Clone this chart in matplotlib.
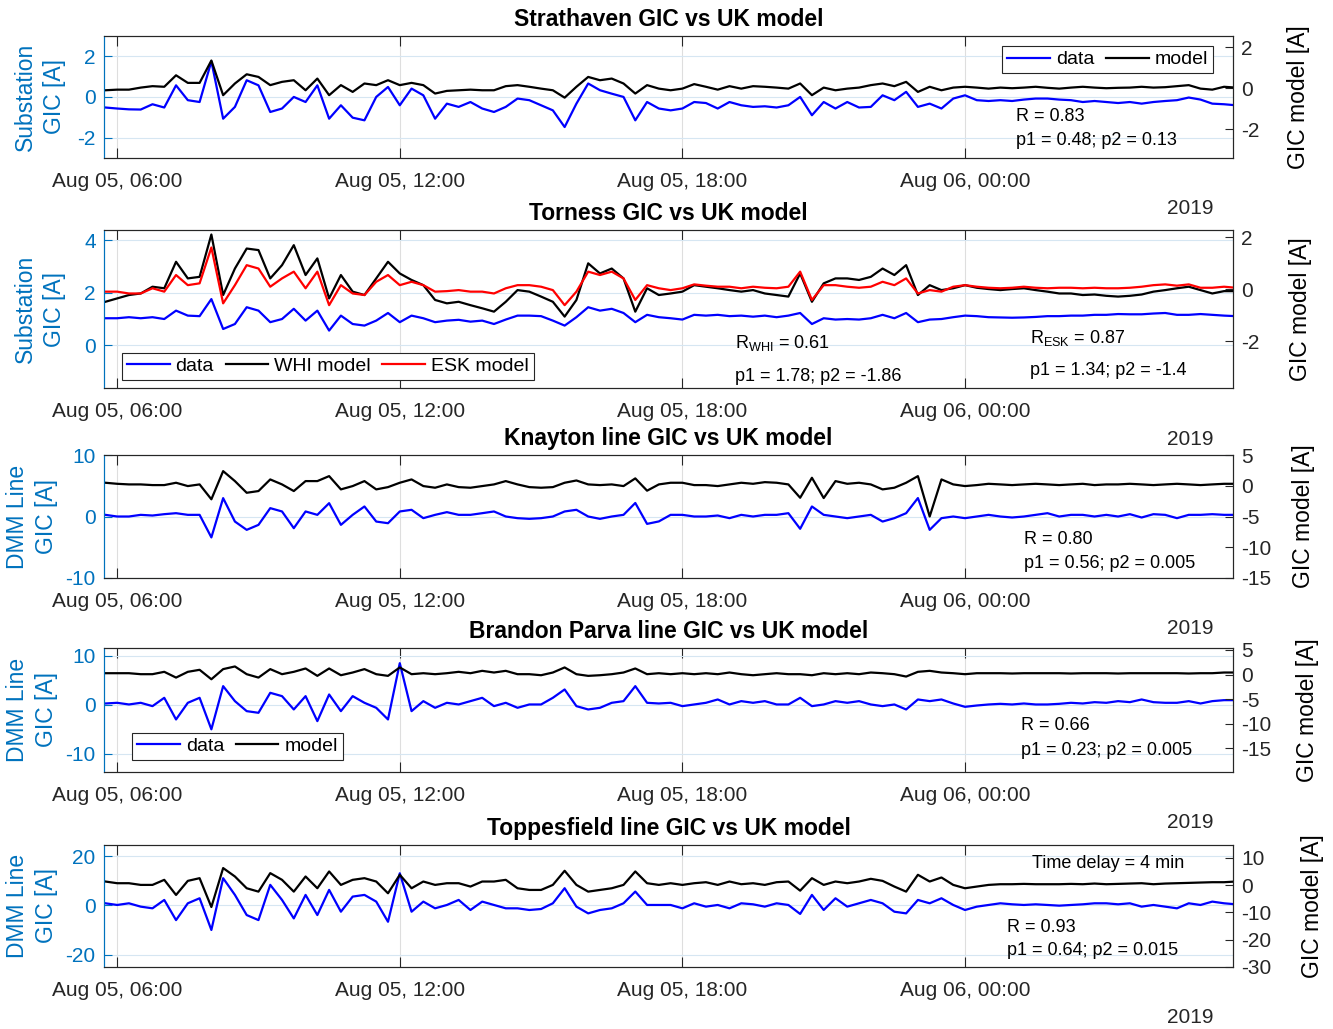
import datetime as dt
import numpy as np
import matplotlib
matplotlib.use('Agg')
import matplotlib.pyplot as plt
import matplotlib.dates as mdates

plt.rcParams['font.family'] = 'Liberation Sans'
plt.rcParams['mathtext.fontset'] = 'custom'
plt.rcParams['mathtext.rm'] = 'Liberation Sans'
plt.rcParams['mathtext.it'] = 'Liberation Sans:italic'
plt.rcParams['axes.unicode_minus'] = False

# sample times: every 15 min from 05:45 on Aug 05 to 05:45 on Aug 06
t0 = dt.datetime(2019, 8, 5)
hours = np.arange(5.75, 29.76, 0.25)
t = [t0 + dt.timedelta(hours=float(h)) for h in hours]

# Strathaven (data on left axis, model on right axis)
strath_data = [
    -0.52, -0.57, -0.61, -0.62, -0.36, -0.52, 0.57, -0.16, -0.25, 1.75, -1.07, -0.49,
    0.82, 0.57, -0.74, -0.57, 0.00, -0.25, 0.57, -1.07, -0.41, -1.02, -1.15, 0.00,
    0.49, -0.41, 0.41, 0.08, -1.07, -0.33, -0.49, -0.25, -0.57, -0.74, -0.49, -0.08,
    -0.16, -0.41, -0.66, -1.48, -0.33, 0.66, 0.33, 0.16, 0.00, -1.15, -0.25, -0.57,
    -0.66, -0.57, -0.25, -0.30, -0.57, -0.25, -0.41, -0.49, -0.46, -0.52, -0.41, 0.00,
    -0.90, -0.25, -0.57, -0.25, -0.52, -0.49, 0.08, -0.16, 0.25, -0.49, -0.33, -0.57,
    -0.08, 0.08, -0.16, -0.20, -0.16, -0.20, -0.13, -0.08, -0.08, -0.13, -0.16, -0.25,
    -0.20, -0.25, -0.30, -0.25, -0.33, -0.25, -0.20, -0.16, -0.03, -0.13, -0.33, -0.36,
    -0.41]
strath_model = [
    -0.10, -0.07, -0.07, 0.03, 0.10, 0.07, 0.63, 0.26, 0.26, 1.35, -0.34, 0.23,
    0.68, 0.55, 0.15, 0.31, 0.39, -0.10, 0.47, -0.34, 0.15, -0.18, 0.23, 0.15,
    0.39, 0.15, 0.26, 0.15, -0.26, -0.13, -0.10, -0.07, -0.10, -0.10, 0.10, 0.15,
    0.07, -0.02, -0.10, -0.46, 0.07, 0.55, 0.39, 0.47, 0.23, -0.26, 0.15, -0.02,
    -0.10, -0.02, 0.20, 0.07, -0.07, 0.10, -0.02, 0.10, 0.07, 0.03, -0.02, 0.23,
    -0.34, 0.03, -0.10, -0.02, 0.03, 0.15, 0.23, 0.10, 0.31, -0.18, 0.07, -0.10,
    0.03, 0.07, 0.03, -0.02, 0.03, 0.00, 0.03, 0.07, 0.02, -0.02, 0.03, 0.07,
    0.03, 0.00, 0.02, 0.03, 0.07, 0.03, 0.05, 0.10, 0.15, -0.02, -0.07, 0.07,
    0.03]

# Torness
torness_data = [
    1.02, 1.02, 1.06, 1.02, 1.06, 0.99, 1.31, 1.12, 1.10, 1.75, 0.61, 0.80,
    1.44, 1.31, 0.87, 0.99, 1.38, 0.93, 1.31, 0.55, 1.12, 0.80, 0.74, 0.93,
    1.22, 0.87, 1.12, 1.02, 0.87, 0.93, 0.96, 0.89, 0.93, 0.80, 0.97, 1.12,
    1.12, 1.10, 0.93, 0.74, 1.06, 1.44, 1.31, 1.38, 1.22, 0.87, 1.15, 1.06,
    1.02, 0.97, 1.15, 1.12, 1.15, 1.10, 1.12, 1.08, 1.12, 1.06, 1.12, 1.22,
    0.80, 1.02, 0.97, 0.99, 0.97, 1.02, 1.15, 1.02, 1.22, 0.87, 0.97, 0.99,
    1.06, 1.12, 1.10, 1.06, 1.05, 1.04, 1.05, 1.07, 1.10, 1.10, 1.12, 1.12,
    1.15, 1.15, 1.18, 1.17, 1.17, 1.20, 1.22, 1.15, 1.15, 1.18, 1.15, 1.12,
    1.10]
torness_whi = [
    -0.49, -0.36, -0.23, -0.17, 0.09, 0.03, 1.05, 0.41, 0.47, 2.10, -0.23, 0.79,
    1.56, 1.50, 0.41, 0.92, 1.69, 0.54, 1.18, -0.36, 0.54, -0.10, -0.23, 0.41,
    1.05, 0.60, 0.35, 0.15, -0.42, -0.55, -0.49, -0.62, -0.74, -0.87, -0.49, -0.04,
    -0.10, -0.29, -0.49, -1.06, -0.42, 0.99, 0.60, 0.79, 0.41, -0.87, 0.03, -0.23,
    -0.17, -0.10, 0.15, 0.09, 0.03, -0.04, -0.10, -0.04, -0.17, -0.23, -0.29, 0.60,
    -0.49, 0.22, 0.41, 0.41, 0.35, 0.47, 0.79, 0.54, 0.92, -0.23, 0.15, -0.04,
    0.03, 0.15, 0.05, 0.00, -0.04, 0.00, 0.03, -0.04, -0.10, -0.17, -0.17, -0.23,
    -0.21, -0.26, -0.29, -0.26, -0.21, -0.10, -0.04, 0.03, 0.09, -0.04, -0.17, -0.08,
    -0.08]
torness_esk = [
    -0.10, -0.10, -0.17, -0.17, 0.03, -0.10, 0.54, 0.15, 0.22, 1.60, -0.55, 0.15,
    0.92, 0.79, 0.09, 0.41, 0.67, 0.03, 0.67, -0.62, 0.15, -0.17, -0.23, 0.28,
    0.54, 0.15, 0.28, 0.15, -0.10, -0.08, -0.04, -0.10, -0.10, -0.17, 0.03, 0.15,
    0.15, 0.09, -0.04, -0.62, -0.10, 0.67, 0.54, 0.67, 0.41, -0.42, 0.15, 0.03,
    -0.04, 0.03, 0.18, 0.13, 0.09, 0.09, 0.03, 0.09, 0.05, 0.03, 0.09, 0.67,
    -0.42, 0.15, 0.15, 0.09, 0.05, 0.09, 0.28, 0.15, 0.41, -0.17, -0.04, -0.10,
    0.09, 0.15, 0.09, 0.05, 0.03, 0.05, 0.09, 0.05, 0.03, 0.05, 0.05, 0.03,
    0.05, 0.03, 0.03, 0.05, 0.09, 0.15, 0.18, 0.13, 0.18, 0.05, 0.05, 0.09,
    0.05]

# Knayton
knay_data = [
    0.27, 0.00, 0.00, 0.27, 0.16, 0.38, 0.54, 0.27, 0.27, -3.40, 2.99, -0.82,
    -2.17, -1.36, 1.36, 0.82, -1.90, 0.82, 0.27, 2.17, -1.36, 0.27, 1.63, -0.82,
    -1.09, 0.82, 1.09, -0.27, 0.27, 0.71, 0.27, 0.27, 0.54, 0.82, 0.00, -0.27,
    -0.38, -0.27, 0.00, 0.82, 1.09, 0.00, -0.38, 0.00, 0.27, 2.20, -1.20, -0.80,
    0.27, 0.27, 0.00, 0.00, 0.16, -0.27, 0.27, 0.00, 0.27, 0.27, 0.54, -2.00,
    1.63, 0.27, 0.00, -0.27, 0.00, 0.27, -0.82, -0.27, 0.54, 3.00, -2.17, -0.27,
    0.00, -0.27, 0.00, 0.27, 0.00, -0.16, 0.00, 0.27, 0.54, 0.00, 0.27, 0.27,
    0.00, 0.27, 0.00, 0.38, -0.16, 0.38, 0.27, -0.27, 0.27, 0.27, 0.38, 0.27,
    0.27]
knay_model = [
    0.49, 0.32, 0.22, 0.22, 0.11, 0.11, 0.49, -0.05, 0.22, -2.20, 2.38, 0.76,
    -1.14, -0.86, 1.03, 0.22, -0.86, 0.76, 0.76, 1.57, -0.59, -0.05, 0.76, -0.59,
    -0.22, 0.49, 1.03, -0.05, -0.32, 0.22, -0.22, -0.32, -0.05, 0.22, 0.76, 0.22,
    -0.22, -0.32, -0.22, 0.49, 0.86, 0.22, 0.11, 0.22, -0.05, 1.20, -0.80, 0.22,
    0.49, 0.49, 0.11, 0.11, -0.05, 0.22, 0.49, 0.32, 0.59, 0.49, 0.22, -1.95,
    1.30, -2.00, 0.76, 0.32, 0.49, 0.22, -0.59, -0.32, 0.49, 1.57, -5.00, 1.03,
    0.22, -0.05, 0.11, 0.32, 0.22, 0.11, 0.22, 0.32, 0.22, 0.11, 0.22, 0.32,
    0.11, 0.22, 0.22, 0.32, 0.22, 0.11, 0.22, 0.32, 0.22, 0.11, 0.22, 0.32,
    0.32]

# Brandon Parva
brandon_data = [
    0.27, 0.41, 0.07, 0.41, -0.27, 1.43, -2.99, 0.41, 1.43, -5.00, 3.81, 0.75,
    -1.29, -1.63, 2.45, 1.77, -0.95, 1.77, -3.33, 2.11, -1.29, 1.77, 0.41, -0.61,
    -2.99, 8.50, -1.29, 0.75, -0.61, 0.41, 0.07, 0.75, 1.43, -0.27, 0.41, -0.61,
    0.07, 0.07, 1.43, 3.13, -0.27, -0.95, -0.61, 0.41, 0.75, 3.81, 0.41, 0.27,
    0.41, -0.27, 0.07, 0.41, 1.09, 0.07, 0.75, 0.41, 0.75, 0.07, 0.07, 1.43,
    -0.27, 0.07, 0.75, 0.41, 0.75, 0.07, -0.27, 0.07, -0.95, 1.09, 0.75, 1.09,
    0.27, -0.41, -0.14, 0.07, 0.20, 0.07, 0.27, 0.07, 0.07, 0.20, 0.41, 0.27,
    0.54, 0.41, 0.75, 0.54, 1.09, 0.54, 0.41, 0.41, 0.75, 0.27, 0.75, 0.95,
    0.95]
brandon_model = [
    0.27, 0.27, 0.27, 0.07, 0.07, 0.55, -0.62, 0.55, 0.96, -0.96, 1.10, 1.64,
    0.07, -0.62, 1.10, 0.07, 0.55, 1.23, -0.27, 1.23, -0.14, 0.41, 1.10, 0.07,
    -0.27, 1.44, 0.07, 0.27, 0.07, 0.27, 0.55, 0.27, 0.75, 0.41, 0.75, 0.07,
    0.07, -0.14, 0.41, 1.44, 0.07, -0.27, -0.14, 0.07, 0.41, 1.23, 0.07, 0.27,
    0.07, 0.27, 0.07, 0.27, 0.07, 0.41, 0.07, -0.14, 0.07, 0.27, 0.07, 0.07,
    -0.14, 0.27, 0.07, 0.27, 0.07, 0.41, 0.27, 0.07, -0.41, 0.55, 0.75, 0.41,
    0.27, 0.07, 0.27, 0.27, 0.27, 0.21, 0.27, 0.27, 0.27, 0.27, 0.21, 0.27,
    0.27, 0.27, 0.21, 0.27, 0.27, 0.27, 0.27, 0.27, 0.21, 0.27, 0.27, 0.41,
    0.41]

# Toppesfield
toppes_data = [
    0.82, 0.14, 0.82, -0.54, -1.22, 2.18, -6.00, 0.82, 2.86, -10.0, 11.0, 4.22,
    -3.95, -5.99, 8.30, 2.18, -5.31, 4.22, -3.95, 6.26, -2.59, 3.54, 4.22, 1.50,
    -6.67, 13.0, -2.59, 1.50, -1.22, 0.14, 2.18, -1.90, 1.50, 0.14, -1.22, -1.22,
    -1.90, -1.50, 0.82, 6.94, -0.54, -3.27, -1.90, -1.22, 0.82, 5.58, 0.14, 0.14,
    0.14, -1.22, 0.82, -0.54, 0.14, -1.22, 0.82, 0.41, -0.54, 0.82, 0.14, -3.50,
    4.22, -1.90, 2.86, -0.54, 0.82, 2.18, 0.82, -2.59, -3.27, 2.18, 0.82, 2.86,
    0.14, -1.90, -0.54, 0.14, 0.82, 0.41, 0.14, 0.41, 0.14, -0.14, 0.14, 0.41,
    0.82, 0.82, 0.41, 0.82, -0.54, 0.14, -0.54, -1.22, 0.82, 0.14, 1.50, 0.82,
    0.41]
toppes_model = [
    1.36, 0.74, 0.74, 0.12, 0.12, 1.98, -3.58, 1.60, 2.59, -8.00, 6.30, 3.21,
    -1.11, -2.35, 4.44, 1.98, -2.35, 3.21, -1.11, 5.06, 0.12, 1.98, 2.59, 1.36,
    -2.96, 3.83, -1.11, 1.36, 0.12, 0.74, 0.74, -0.49, 1.36, 1.36, 1.98, -1.11,
    -1.73, -1.73, 0.12, 5.31, 0.12, -2.35, -1.73, -1.11, 0.12, 5.06, 0.74, 0.12,
    0.74, 0.12, 0.74, 1.11, 0.12, 1.36, 0.37, 0.74, 0.12, 1.11, 1.36, -2.00,
    2.59, 0.12, 1.36, 0.74, 1.36, 2.35, 1.60, -0.49, -2.35, 3.83, 1.36, 2.84,
    0.12, -1.11, -0.49, 0.12, 0.37, 0.37, 0.49, 0.37, 0.37, 0.37, 0.49, 0.37,
    0.62, 0.37, 0.49, 0.62, 0.74, 0.37, 0.62, 0.74, 0.86, 0.99, 1.11, 1.11,
    1.36]

blue_ax = '#0072BD'
dark = '#262626'
fig = plt.figure(figsize=(13.33, 10.29), dpi=100)


def make_panel(pos, title, ylab, ylim1, yt1, ylim2, yt2, lx1, lx2):
    ax1 = fig.add_axes(pos)
    ax2 = ax1.twinx()
    ax1.set_xlim(t0 + dt.timedelta(hours=5.72), t0 + dt.timedelta(hours=29.69))
    ax1.xaxis.set_major_locator(mdates.HourLocator(byhour=[0, 6, 12, 18]))
    ax1.xaxis.set_major_formatter(mdates.DateFormatter('%b %d, %H:%M'))
    ax1.set_ylim(ylim1)
    ax1.set_yticks(yt1)
    ax2.set_ylim(ylim2)
    ax2.set_yticks(yt2)
    ax1.tick_params(axis='x', direction='in', top=True, length=7, width=0.8,
                    color=dark, labelcolor=dark, labelsize=15, pad=10)
    ax1.tick_params(axis='y', direction='in', length=6, width=0.8,
                    colors=blue_ax, labelsize=15, pad=6)
    ax2.tick_params(axis='y', direction='in', length=6, width=0.8,
                    color=dark, labelcolor=dark, labelsize=15, pad=6)
    ax1.grid(axis='x', color='#dedede', lw=0.8)
    ax1.grid(axis='y', color='#d6e6f2', lw=0.8)
    for a in (ax1, ax2):
        for s in ('top', 'bottom', 'right'):
            a.spines[s].set_color(dark)
            a.spines[s].set_linewidth(0.8)
        a.spines['left'].set_color(blue_ax)
        a.spines['left'].set_linewidth(0.8)
    ax1.set_title(title, fontsize=16.5, fontweight='bold', pad=7)
    ax1.set_ylabel(ylab, color=blue_ax, fontsize=16.5, linespacing=1.3)
    ax1.yaxis.set_label_coords(lx1, 0.5)
    ax2.set_ylabel('GIC model [A]', color='k', fontsize=16.5)
    ax2.yaxis.set_label_coords(lx2, 0.5)
    ax1.annotate('2019', xy=(1, 0), xycoords='axes fraction', xytext=(-43, -51),
                 textcoords='offset pixels', ha='center', va='center',
                 fontsize=15, color=dark)
    return ax1, ax2


def add_legend(ax, handles, labels, loc, anchor):
    leg = ax.legend(handles, labels, loc=loc, bbox_to_anchor=anchor, ncol=len(labels),
                    fontsize=14, handlelength=2.2, handletextpad=0.3, columnspacing=0.6,
                    borderaxespad=0, borderpad=0.25, fancybox=False, framealpha=1,
                    edgecolor=dark)
    leg.get_frame().set_linewidth(0.8)


lw = 1.6
W = 0.847
L = 0.078

# Strathaven
ax1, ax2 = make_panel([L, 0.8465, W, 0.1186], 'Strathaven GIC vs UK model',
                      'Substation\nGIC [A]', (-3, 3), [-2, 0, 2],
                      (-3.4, 2.55), [-2, 0, 2], -0.034, 1.048)
h1, = ax1.plot(t, strath_data, color='#0000FF', lw=lw)
h2, = ax2.plot(t, strath_model, color='k', lw=lw)
add_legend(ax2, [h1, h2], ['data', 'model'], 'upper right', (0.982, 0.918))
ax2.text(0.808, 0.336, 'R = 0.83', transform=ax2.transAxes, fontsize=13, va='center')
ax2.text(0.808, 0.139, 'p1 = 0.48; p2 = 0.13', transform=ax2.transAxes, fontsize=13, va='center')

# Torness
ax1, ax2 = make_panel([L, 0.6229, W, 0.1535], 'Torness GIC vs UK model',
                      'Substation\nGIC [A]', (-1.64, 4.38), [0, 2, 4],
                      (-3.81, 2.27), [-2, 0, 2], -0.034, 1.050)
h1, = ax1.plot(t, torness_data, color='#0000FF', lw=lw)
h2, = ax2.plot(t, torness_whi, color='k', lw=lw)
h3, = ax2.plot(t, torness_esk, color='#FF0000', lw=lw)
add_legend(ax2, [h1, h2, h3], ['data', 'WHI model', 'ESK model'], 'lower left', (0.016, 0.05))
ax2.text(0.559, 0.285, r'R$_{\mathrm{WHI}}$ = 0.61', transform=ax2.transAxes, fontsize=13, va='center')
ax2.text(0.559, 0.076, 'p1 = 1.78; p2 = -1.86', transform=ax2.transAxes, fontsize=13, va='center')
ax2.text(0.820, 0.316, r'R$_{\mathrm{ESK}}$ = 0.87', transform=ax2.transAxes, fontsize=13, va='center')
ax2.text(0.820, 0.114, 'p1 = 1.34; p2 = -1.4', transform=ax2.transAxes, fontsize=13, va='center')

# Knayton
ax1, ax2 = make_panel([L, 0.4383, W, 0.1195], 'Knayton line GIC vs UK model',
                      'DMM Line\nGIC [A]', (-10, 10), [-10, 0, 10],
                      (-15, 5), [-15, -10, -5, 0, 5], -0.041, 1.052)
ax1.plot(t, knay_data, color='#0000FF', lw=lw)
ax2.plot(t, knay_model, color='k', lw=lw)
ax2.text(0.815, 0.309, 'R = 0.80', transform=ax2.transAxes, fontsize=13, va='center')
ax2.text(0.815, 0.114, 'p1 = 0.56; p2 = 0.005', transform=ax2.transAxes, fontsize=13, va='center')

# Brandon Parva
ax1, ax2 = make_panel([L, 0.2498, W, 0.1205], 'Brandon Parva line GIC vs UK model',
                      'DMM Line\nGIC [A]', (-13.7, 11.6), [-10, 0, 10],
                      (-19.8, 5.4), [-15, -10, -5, 0, 5], -0.041, 1.056)
h1, = ax1.plot(t, brandon_data, color='#0000FF', lw=lw)
h2, = ax2.plot(t, brandon_model, color='k', lw=lw)
add_legend(ax2, [h1, h2], ['data', 'model'], 'lower left', (0.025, 0.097))
ax2.text(0.812, 0.371, 'R = 0.66', transform=ax2.transAxes, fontsize=13, va='center')
ax2.text(0.812, 0.177, 'p1 = 0.23; p2 = 0.005', transform=ax2.transAxes, fontsize=13, va='center')

# Toppesfield
ax1, ax2 = make_panel([L, 0.0603, W, 0.1186], 'Toppesfield line GIC vs UK model',
                      'DMM Line\nGIC [A]', (-25, 24.5), [-20, 0, 20],
                      (-30, 14.8), [-30, -20, -10, 0, 10], -0.041, 1.060)
ax1.plot(t, toppes_data, color='#0000FF', lw=lw)
ax2.plot(t, toppes_model, color='k', lw=lw)
ax2.text(0.822, 0.844, 'Time delay = 4 min', transform=ax2.transAxes, fontsize=13, va='center')
ax2.text(0.800, 0.320, 'R = 0.93', transform=ax2.transAxes, fontsize=13, va='center')
ax2.text(0.800, 0.131, 'p1 = 0.64; p2 = 0.015', transform=ax2.transAxes, fontsize=13, va='center')

fig.savefig('out.png', dpi=100)
plt.close()
